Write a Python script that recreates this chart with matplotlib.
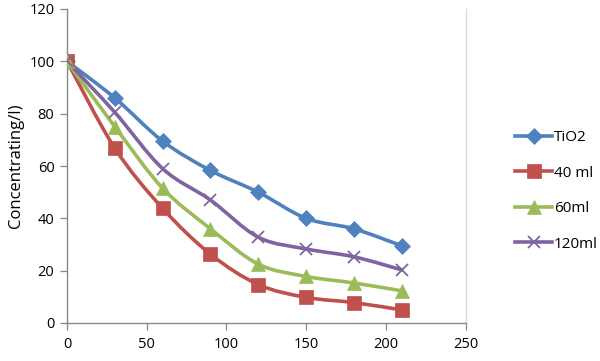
import numpy as np
import matplotlib
matplotlib.use("Agg")
import matplotlib.pyplot as plt
from matplotlib.path import Path
from matplotlib.patches import PathPatch
from matplotlib.lines import Line2D

plt.rcParams['font.family'] = ['Open Sans', 'DejaVu Sans']

time = [0, 30, 60, 90, 120, 150, 180, 210]
tio2 = [100, 86, 69.5, 58.3, 50, 40, 36, 29.5]
ml40 = [100, 66.8, 43.8, 26.3, 14.7, 9.8, 7.8, 5]
ml60 = [100, 75, 51.5, 36, 22.5, 17.8, 15.3, 12.3]
ml120 = [100, 80.5, 59, 47, 32.8, 28.3, 25.3, 20.3]

names = ['TiO2', '40 ml', '60ml', '120ml']
series = [tio2, ml40, ml60, ml120]
colors = ['#4F81BD', '#C0504D', '#9BBB59', '#8064A2']
markers = ['D', 's', '^', 'x']
msizes = [8, 9.5, 9.5, 8.5]

xticks = [0, 50, 100, 150, 200, 250]
yticks = [0, 20, 40, 60, 80, 100, 120]


def smooth_path(x, y):
    pts = np.column_stack([x, y]).astype(float)
    n = len(pts)
    verts = [pts[0]]
    codes = [Path.MOVETO]
    for i in range(n - 1):
        p0 = pts[i - 1] if i > 0 else pts[i]
        p1 = pts[i]
        p2 = pts[i + 1]
        p3 = pts[i + 2] if i + 2 < n else pts[i + 1]
        c1 = p1 + (p2 - p0) / 6.0
        c2 = p2 - (p3 - p1) / 6.0
        verts += [c1, c2, p2]
        codes += [Path.CURVE4] * 3
    return Path(verts, codes)


fig = plt.figure(figsize=(6.0, 3.61), dpi=100)
ax = fig.add_axes([67 / 600, 1 - 323 / 361, (465.5 - 67) / 600, (323 - 9) / 361])

handles = []
for name, ys, c, m, ms in zip(names, series, colors, markers, msizes):
    patch = PathPatch(smooth_path(time, ys), facecolor='none', edgecolor=c,
                      lw=2.6, capstyle='round', joinstyle='round', zorder=2)
    ax.add_patch(patch)
    mew = 1.3 if m == 'x' else 0.5
    ax.plot(time, ys, linestyle='none', marker=m, color=c, markersize=ms,
            markeredgewidth=mew, markeredgecolor=c, zorder=3)
    handles.append(Line2D([], [], color=c, lw=2.6, marker=m, markersize=ms,
                          markeredgewidth=mew, markeredgecolor=c))

ax.set_xlim(0, 250)
ax.set_ylim(0, 120)
ax.set_xticks(xticks)
ax.set_yticks(yticks)
ax.tick_params(labelsize=10.5, colors='#000000', length=5, width=0.9,
               color='#868686', direction='out')
for s in ['left', 'bottom']:
    ax.spines[s].set_color('#868686')
    ax.spines[s].set_linewidth(1.0)
ax.spines['top'].set_visible(False)
ax.spines['right'].set_color('#D9D9D9')
ax.spines['right'].set_linewidth(1.0)
ax.tick_params(axis='x', pad=5)
ax.tick_params(axis='y', pad=4)
ax.set_ylabel('Concentrating/l)', fontsize=12, labelpad=4)

leg = fig.legend(handles, names, loc='center left', bbox_to_anchor=(515 / 600, 1 - 191 / 361),
                 frameon=False, fontsize=11, handlelength=2.45, handletextpad=0.1,
                 labelspacing=1.34, borderaxespad=0, borderpad=0)

fig.savefig('out.png', dpi=100)
